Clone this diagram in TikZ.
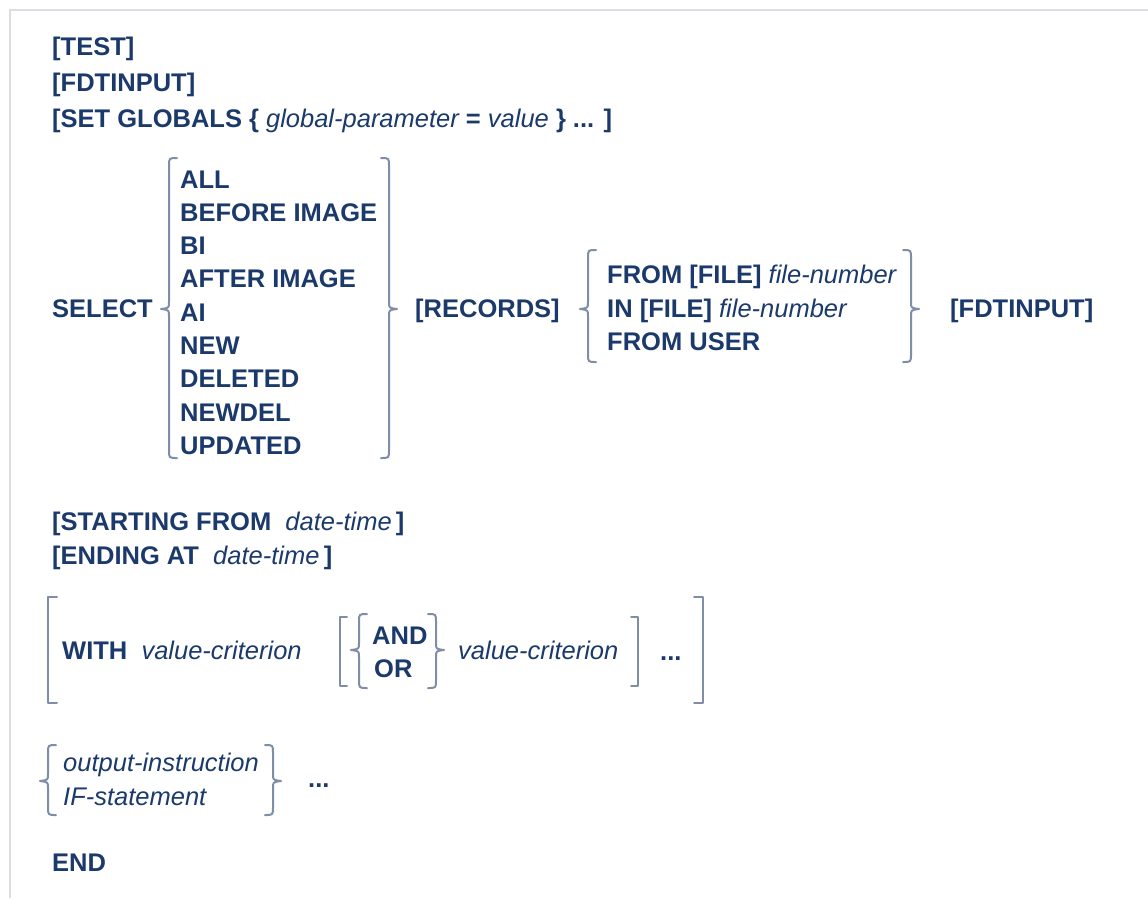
\documentclass[tikz,border=0pt]{standalone}
\usepackage{fontspec}
\setmainfont{Liberation Sans}
\definecolor{txt}{HTML}{1B3A6B}
\definecolor{brc}{HTML}{7F8EA6}
\definecolor{frm}{HTML}{DCDDE2}
\newcommand{\mvar}[1]{{\mdseries\itshape #1}}
% left curly brace: #1 tip x, #2 top y, #3 tip y, #4 bottom y
\newcommand{\lbrc}[4]{%
  \draw[brcline] ({#1+16},#2) .. controls ({#1+8},#2) .. ({#1+8},{#2+8})
    -- ({#1+8},{#3-7}) .. controls ({#1+8},{#3-1}) .. (#1,#3)
    .. controls ({#1+8},{#3+1}) .. ({#1+8},{#3+7})
    -- ({#1+8},{#4-8}) .. controls ({#1+8},#4) .. ({#1+16},#4);}
% right curly brace
\newcommand{\rbrc}[4]{%
  \draw[brcline] ({#1-16},#2) .. controls ({#1-8},#2) .. ({#1-8},{#2+8})
    -- ({#1-8},{#3-7}) .. controls ({#1-8},{#3-1}) .. (#1,#3)
    .. controls ({#1-8},{#3+1}) .. ({#1-8},{#3+7})
    -- ({#1-8},{#4-8}) .. controls ({#1-8},#4) .. ({#1-16},#4);}
\tikzset{
  brcline/.style={draw=brc, line width=2pt, line cap=round, line join=round},
  kw/.style={inner sep=0pt, anchor=base west, text=txt,
    font=\fontsize{25.5}{30}\selectfont\bfseries},
}
\begin{document}
\begin{tikzpicture}[x=1pt,y=-1pt]
\useasboundingbox (0,0) rectangle (1148,898);
\fill[white] (0,0) rectangle (1148,898);
\draw[frm, line width=2pt] (10,898) -- (10,10) -- (1148,10);

\node[kw] (test) at (52,55) {[TEST]};
\node[kw] (fdtA) at (52,91) {[FDTINPUT]};
\node[kw] (glob) at (52,127) {[SET GLOBALS \{ \mvar{global-parameter} = \mvar{value} \} ... ]};

\node[kw] (select) at (52,317) {SELECT};
\lbrc{161}{158}{309}{458}
\foreach \t [count=\i from 0] in {ALL,BEFORE IMAGE,BI,AFTER IMAGE,AI,NEW,DELETED,NEWDEL,UPDATED}
  \node[kw] (opt\i) at (180,{188+33.3*\i}) {\t};
\rbrc{397}{158}{309}{458}

\node[kw] (records) at (415,317) {[RECORDS]};
\lbrc{580}{250}{309}{362}
\node[kw] (fromfile) at (607,283) {FROM [FILE] \mvar{file-number}};
\node[kw] (infile) at (607,317) {IN [FILE] \mvar{file-number}};
\node[kw] (fromuser) at (607,350) {FROM USER};
\rbrc{919}{250}{309}{362}
\node[kw] (fdtB) at (950,317) {[FDTINPUT]};

\node[kw] (start) at (52,530) {[STARTING FROM\ \ \mvar{date-time}\,]};
\node[kw] (ending) at (52,564) {[ENDING AT\ \ \mvar{date-time}\,]};

\draw[brcline] (57,597) -- (48,597) -- (48,703) -- (57,703);
\node[kw] (with) at (62,659) {WITH\ \ \mvar{value-criterion}};
\draw[brcline] (347,617) -- (340,617) -- (340,686) -- (347,686);
\lbrc{351}{614}{650}{688}
\node[kw] (and) at (372,644) {AND};
\node[kw] (or) at (374,677) {OR};
\rbrc{444}{614}{650}{688}
\node[kw] (vc) at (458,659) {\mvar{value-criterion}};
\draw[brcline] (631,617) -- (638,617) -- (638,686) -- (631,686);
\node[kw] (dotsA) at (660,660) {...};
\draw[brcline] (694,597) -- (703,597) -- (703,703) -- (694,703);

\lbrc{40}{745}{781}{815}
\node[kw] (outi) at (63,771) {\mvar{output-instruction}};
\node[kw] (ifst) at (63,805) {\mvar{IF-statement}};
\rbrc{281}{745}{781}{815}
\node[kw] (dotsB) at (308,787) {...};

\node[kw] (end) at (52,871) {END};
\end{tikzpicture}
\end{document}
